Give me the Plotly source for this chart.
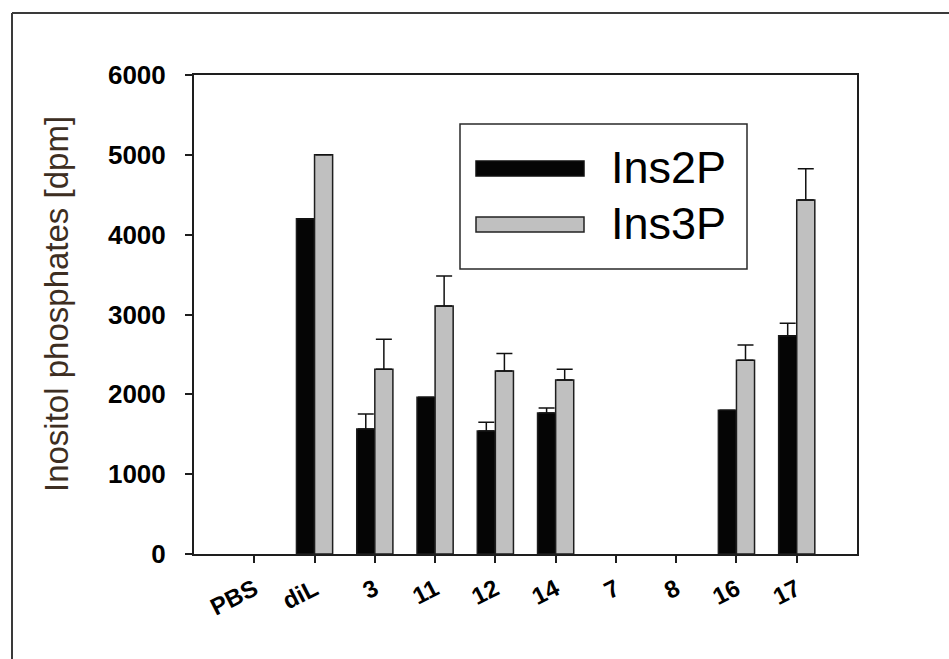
import plotly.graph_objects as go

categories = ["PBS", "diL", "3", "11", "12", "14", "7", "8", "16", "17"]
ins2p = [None, 4200, 1565, 1965, 1540, 1765, None, None, 1800, 2735]
ins2p_err = [None, None, 190, None, 110, 63, None, None, None, 155]
ins3p = [None, 5000, 2313, 3107, 2292, 2180, None, None, 2426, 4434]
ins3p_err = [None, None, 376, 376, 218, 133, None, None, 192, 393]
y_ticks = [0, 1000, 2000, 3000, 4000, 5000, 6000]

W, H = 949, 659
L, R, T, B = 194, 92, 75, 105
PW, PH = W - L - R, H - T - B


def px(x):
    return (x - L) / PW


def py(y):
    return (H - B - y) / PH


FONT = "Arial, 'Liberation Sans', sans-serif"
edge = "#1e1e1e"

fig = go.Figure()
fig.add_trace(go.Bar(
    x=categories, y=ins2p, name="Ins2P",
    marker=dict(color="#050505", line=dict(color=edge, width=1.5)),
    error_y=dict(type="data", array=ins2p_err, symmetric=False,
                 arrayminus=[0] * len(categories), color="#111", thickness=1.5, width=8),
))
fig.add_trace(go.Bar(
    x=categories, y=ins3p, name="Ins3P",
    marker=dict(color="#c0c0c0", line=dict(color=edge, width=1.5)),
    error_y=dict(type="data", array=ins3p_err, symmetric=False,
                 arrayminus=[0] * len(categories), color="#111", thickness=1.5, width=8),
))

fig.update_layout(
    width=W, height=H,
    margin=dict(l=L, r=R, t=T, b=B, pad=0),
    paper_bgcolor="white", plot_bgcolor="white",
    barmode="group", bargap=0.4, bargroupgap=0,
    showlegend=False,
    font=dict(family=FONT, color="black"),
)
fig.update_xaxes(
    type="category", range=[-1, 10],
    showline=True, linecolor=edge, linewidth=2, mirror=True,
    ticks="outside", ticklen=7, tickwidth=1.5, tickcolor=edge,
    tickangle=-27, ticklabelstandoff=3,
    tickfont=dict(family=FONT, size=24, color="black", weight="bold"),
    showgrid=False, zeroline=False,
)
fig.update_yaxes(
    range=[0, 6000], tickvals=y_ticks,
    showline=True, linecolor=edge, linewidth=2, mirror=True,
    ticks="outside", ticklen=7, tickwidth=1.5, tickcolor=edge,
    ticklabelstandoff=14,
    tickfont=dict(family=FONT, size=26, color="black", weight="bold"),
    showgrid=False, zeroline=False,
)

shapes = [
    # outer frame (top and left edges; the rest lies outside the picture)
    dict(type="line", xref="paper", yref="paper",
         x0=px(12), x1=px(W + 5), y0=py(13), y1=py(13),
         line=dict(color="#3a3a3a", width=2)),
    dict(type="line", xref="paper", yref="paper",
         x0=px(12), x1=px(12), y0=py(13), y1=py(H + 5),
         line=dict(color="#3a3a3a", width=2)),
    # legend box
    dict(type="rect", xref="paper", yref="paper",
         x0=px(460), x1=px(747), y0=py(269), y1=py(124),
         line=dict(color="#2a2a2a", width=1.5), fillcolor="white"),
    dict(type="rect", xref="paper", yref="paper",
         x0=px(476), x1=px(584), y0=py(176), y1=py(161),
         line=dict(color="#111", width=1.5), fillcolor="#050505"),
    dict(type="rect", xref="paper", yref="paper",
         x0=px(476), x1=px(584), y0=py(232), y1=py(217),
         line=dict(color="#222", width=1.5), fillcolor="#c0c0c0"),
]
fig.update_layout(shapes=shapes)

annotations = [
    dict(text="Ins2P", xref="paper", yref="paper", x=px(609), y=py(167),
         xanchor="left", yanchor="middle", showarrow=False,
         font=dict(family=FONT, size=45, color="black")),
    dict(text="Ins3P", xref="paper", yref="paper", x=px(609), y=py(223),
         xanchor="left", yanchor="middle", showarrow=False,
         font=dict(family=FONT, size=45, color="black")),
    dict(text="Inositol phosphates [dpm]", xref="paper", yref="paper",
         x=px(56), y=py(304), xanchor="center", yanchor="middle",
         textangle=-90, showarrow=False,
         font=dict(family=FONT, size=33, color="#3d2e22")),
]
fig.update_layout(annotations=annotations)

fig.write_html("out.html")
